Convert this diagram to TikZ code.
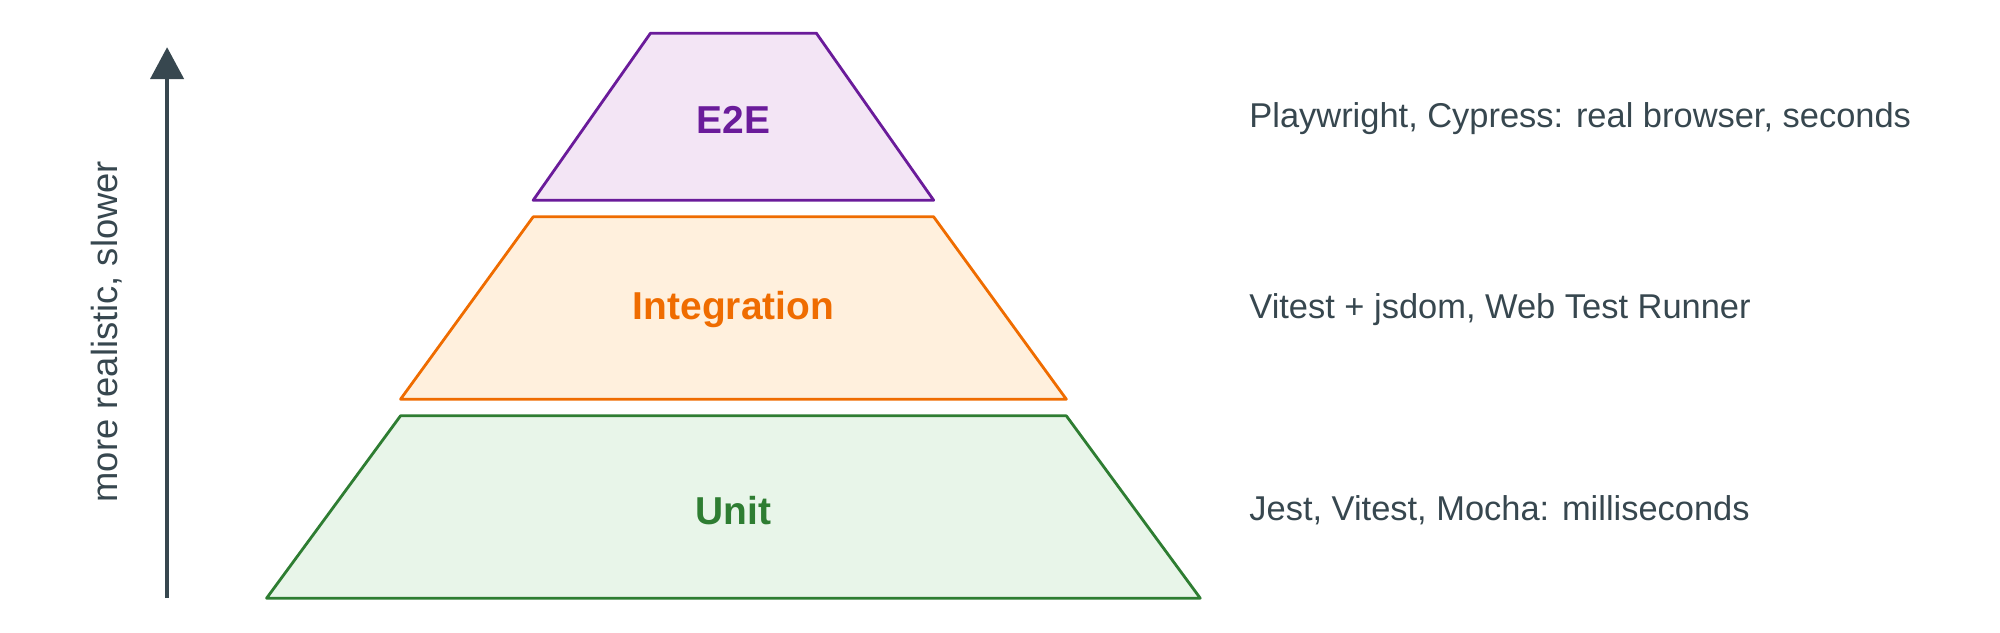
\documentclass[tikz,border=0pt]{standalone}
\usepackage{fontspec}
\setmainfont{Liberation Sans}
\usetikzlibrary{arrows.meta}
\definecolor{slate}{HTML}{37474F}
\definecolor{eeline}{HTML}{6A1B9A}
\definecolor{eefill}{HTML}{F3E5F5}
\definecolor{inline}{HTML}{EF6C00}
\definecolor{infill}{HTML}{FFF0DD}
\definecolor{unline}{HTML}{2E7D32}
\definecolor{unfill}{HTML}{E8F5E9}
\tikzset{
  tier/.style={line width=2.2, line join=round},
  tiername/.style={font=\fontsize{30.5}{36}\selectfont\bfseries},
  tool/.style={anchor=west, text=slate, font=\fontsize{27}{32}\selectfont},
}
\begin{document}
\begin{tikzpicture}[x=1pt,y=1pt,yscale=-1,xscale=1]
\useasboundingbox (0,0) rectangle (1568,496);

%Tier: E2E
\draw [tier, draw=eeline, fill=eefill] (510,26) -- (640,26) -- (732,157) -- (418,157) -- cycle;
%Tier: Integration
\draw [tier, draw=inline, fill=infill] (418,170) -- (732,170) -- (836,313) -- (314,313) -- cycle;
%Tier: Unit
\draw [tier, draw=unline, fill=unfill] (314,326) -- (836,326) -- (941,469) -- (209,469) -- cycle;

% Tier names
\node [tiername, text=eeline] (e2e) at (575,94) {E2E};
\node [tiername, text=inline] (integ) at (575,243) {Integration};
\node [tiername, text=unline] (unit) at (575,400) {Unit};

% Tools
\node [tool] (e2etools) at (976,93) {Playwright, Cypress: real browser, seconds};
\node [tool] (integtools) at (976,243) {Vitest + jsdom, Web Test Runner};
\node [tool] (unittools) at (976,400) {Jest, Vitest, Mocha: milliseconds};

% Axis
\coordinate (axisfoot) at (131,469);
\coordinate (axistip) at (131,37);
\draw [slate, line width=3, -{Triangle[length=25, width=26]}] (axisfoot) -- (axistip);
\node [rotate=90, text=slate, font=\fontsize{28.5}{34}\selectfont] (axislabel) at (84,260) {more realistic, slower};

\end{tikzpicture}
\end{document}
